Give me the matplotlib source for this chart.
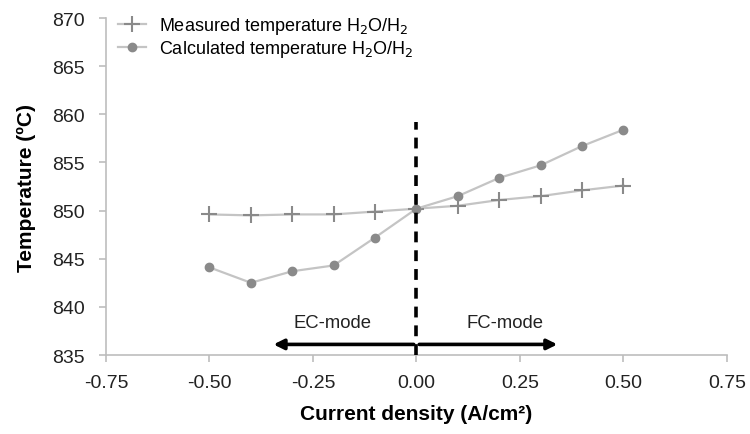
import matplotlib.pyplot as plt

plt.rcParams['font.family'] = ['Liberation Sans', 'DejaVu Sans']

current = [-0.5, -0.4, -0.3, -0.2, -0.1, 0.0, 0.1, 0.2, 0.3, 0.4, 0.5]
measured = [849.6, 849.5, 849.6, 849.6, 849.9, 850.2, 850.5, 851.1, 851.5, 852.1, 852.6]
calculated = [844.1, 842.5, 843.7, 844.3, 847.2, 850.2, 851.5, 853.4, 854.7, 856.7, 858.4]

x_ticks = [-0.75, -0.50, -0.25, 0.00, 0.25, 0.50, 0.75]
y_ticks = [835, 840, 845, 850, 855, 860, 865, 870]

line_col = '#c4c4c4'
mark_col = '#8a8a8a'
axis_col = '#bdbdbd'

fig = plt.figure(figsize=(7.5, 4.35), dpi=100)
ax = fig.add_axes([0.1413, 0.1816, 0.828, 0.7747])

ax.plot(current, measured, color=line_col, lw=1.6, marker='+', ms=11,
        mec=mark_col, mew=1.5, label='Measured temperature H$_2$O/H$_2$')
ax.plot(current, calculated, color=line_col, lw=1.6, marker='o', ms=6,
        mfc=mark_col, mec=mark_col, label='Calculated temperature H$_2$O/H$_2$')

# boundary between the two operating modes
ax.plot([0, 0], [835, 859.2], color='black', lw=2.6, ls=(0, (3, 2.2)), zorder=5)

ax.annotate('', xy=(-0.352, 836.1), xytext=(0, 836.1),
            arrowprops=dict(arrowstyle='-|>', color='black', lw=2.6,
                            mutation_scale=15))
ax.annotate('', xy=(0.347, 836.1), xytext=(0, 836.1),
            arrowprops=dict(arrowstyle='-|>', color='black', lw=2.6,
                            mutation_scale=15))
ax.text(-0.203, 838.4, 'EC-mode', ha='center', va='center', fontsize=13.3,
        color='#222222')
ax.text(0.215, 838.4, 'FC-mode', ha='center', va='center', fontsize=13.3,
        color='#222222')

ax.set_xlim(-0.75, 0.75)
ax.set_ylim(835, 870)
ax.set_xticks(x_ticks)
ax.set_xticklabels([f'{v:.2f}' for v in x_ticks])
ax.set_yticks(y_ticks)

for s in ['top', 'right']:
    ax.spines[s].set_visible(False)
for s in ['left', 'bottom']:
    ax.spines[s].set_color(axis_col)
    ax.spines[s].set_linewidth(1.2)
ax.tick_params(colors=axis_col, labelcolor='#222222', labelsize=14,
               length=5, width=1.2)
ax.tick_params(axis='x', pad=9)
ax.tick_params(axis='y', pad=10)

ax.set_xlabel('Current density (A/cm²)', fontsize=15, fontweight='bold',
              labelpad=9)
ax.set_ylabel('Temperature (ºC)', fontsize=15, fontweight='bold', labelpad=12)

ax.legend(loc='upper left', frameon=False, fontsize=13, handlelength=1.6,
          handletextpad=0.7, borderaxespad=0.0, labelspacing=0.1,
          bbox_to_anchor=(0.007, 1.03))

fig.savefig('out.png', dpi=100)
